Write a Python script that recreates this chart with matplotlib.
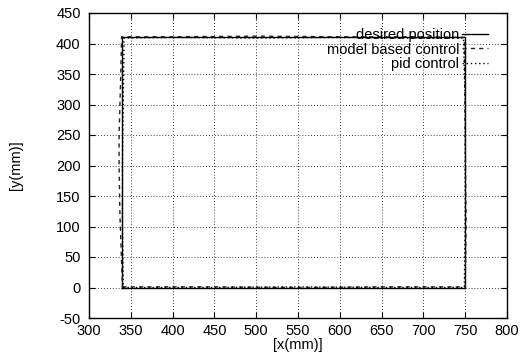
import matplotlib
matplotlib.use("Agg")
import matplotlib.pyplot as plt

plt.rcParams['font.family'] = ['Liberation Sans', 'DejaVu Sans']
plt.rcParams['axes.unicode_minus'] = False

# desired rectangular trajectory
desired_x = [340, 750, 750, 340, 340]
desired_y = [0, 0, 410, 410, 0]

# model based control response
model_x = [340, 450, 550, 650, 750, 751, 750, 749, 700, 600, 500, 400, 339, 338, 336, 336, 337, 339, 340]
model_y = [1, 1, 0, 1, 1, 100, 250, 410, 411, 411, 412, 411, 411, 350, 250, 200, 120, 40, 1]

# pid control response
pid_x = [341, 450, 550, 650, 749, 750, 750, 748, 700, 600, 500, 400, 342, 341, 340, 340, 341]
pid_y = [0, 0, 1, 0, 0, 120, 300, 409, 409, 410, 409, 410, 409, 300, 200, 100, 0]

xticks = list(range(300, 801, 50))
yticks = list(range(-50, 451, 50))

fig = plt.figure(figsize=(5.2, 3.6), dpi=100)
ax = fig.add_axes([89/520, 1-318/360, (507-89)/520, (318-13)/360])

ax.plot(desired_x, desired_y, color='black', lw=1.0, ls='-', label='desired position')
ax.plot(model_x, model_y, color='#222222', lw=1.0, ls=(0, (3, 3)), label='model based control')
ax.plot(pid_x, pid_y, color='black', lw=1.0, ls=(0, (1, 2)), label='pid control')

ax.set_xlim(300, 800)
ax.set_ylim(-50, 450)
ax.set_xticks(xticks)
ax.set_yticks(yticks)
ax.grid(True, color='black', lw=0.6, ls=(0, (1, 2.5)))
ax.tick_params(direction='in', top=True, right=True, length=4, width=0.8, labelsize=10.5)
ax.tick_params(axis='x', pad=4)
ax.tick_params(axis='y', pad=6)
for s in ax.spines.values():
    s.set_linewidth(1.0)

ax.set_xlabel('[x(mm)]', fontsize=10.5, labelpad=0)
ax.set_ylabel('[y(mm)]', fontsize=10.5, labelpad=24)

leg = ax.legend(loc='upper right', frameon=False, markerfirst=False, fontsize=10.5,
                handlelength=1.8, handletextpad=0.2, labelspacing=0.05,
                borderaxespad=0.3, bbox_to_anchor=(0.98, 0.985))
for t in leg.get_texts():
    t.set_ha('right')

fig.savefig('out.png', dpi=100)
